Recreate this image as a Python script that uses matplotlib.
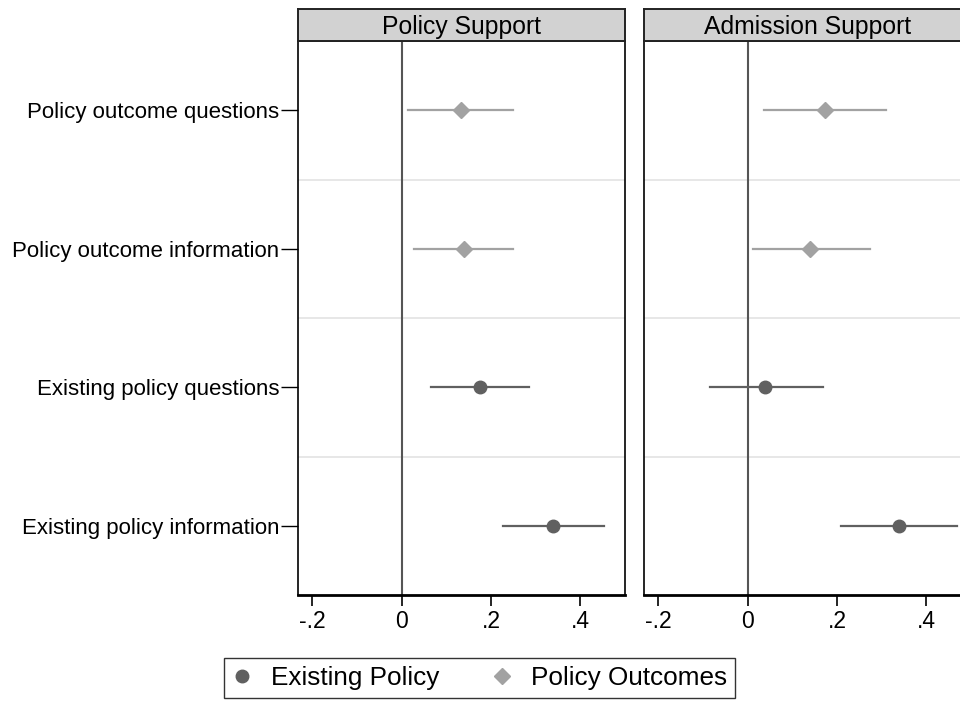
import matplotlib
matplotlib.use("Agg")
import matplotlib.pyplot as plt
from matplotlib.lines import Line2D

plt.rcParams['font.family'] = ['Liberation Sans', 'DejaVu Sans']

## Data (top to bottom)
rows = ["Policy outcome questions", "Policy outcome information",
        "Existing policy questions", "Existing policy information"]
groups = ["Policy Outcomes", "Policy Outcomes", "Existing Policy", "Existing Policy"]
panels = ["Policy Support", "Admission Support"]

# point estimates and 95% CIs per panel
est_policy = [0.133, 0.139, 0.175, 0.340]
lo_policy = [0.015, 0.028, 0.066, 0.228]
hi_policy = [0.250, 0.250, 0.285, 0.452]

est_admit = [0.174, 0.139, 0.040, 0.339]
lo_admit = [0.036, 0.011, -0.085, 0.210]
hi_admit = [0.310, 0.275, 0.168, 0.469]

xticks = [-0.2, 0, 0.2, 0.4]
xticklabels = ["-.2", "0", ".2", ".4"]

style = {"Existing Policy": dict(marker='o', color='#606060', ms=9),
         "Policy Outcomes": dict(marker='D', color='#a2a2a2', ms=8)}

W, H = 960, 703
fig = plt.figure(figsize=(W / 100, H / 100), dpi=100)

def fx(px): return px / W
def fy(py): return 1 - py / H

ax_w = fx(326.5)
top_px, bot_px, head_px = 41, 595, 9
lefts = [298, 644]
data = [(est_policy, lo_policy, hi_policy), (est_admit, lo_admit, hi_admit)]

ypos = [4, 3, 2, 1]

for i, (lx, (est, lo, hi)) in enumerate(zip(lefts, data)):
    ax = fig.add_axes([fx(lx), fy(bot_px), ax_w, fy(top_px) - fy(bot_px)])
    ax.set_xlim(-0.232, 0.499)
    ax.set_ylim(0.5, 4.5)
    for s in [1.5, 2.5, 3.5]:
        ax.axhline(s, color='#e3e3e3', lw=1.2, zorder=0)
    ax.axvline(0, color='#555555', lw=1.5, zorder=1)
    for y, g, e, l, h in zip(ypos, groups, est, lo, hi):
        st = style[g]
        ax.plot([l, h], [y, y], color=st['color'], lw=1.6, zorder=2)
        ax.plot(e, y, linestyle='none', marker=st['marker'], color=st['color'],
                ms=st['ms'], mec=st['color'], zorder=3)
    ax.set_xticks(xticks)
    ax.set_xticklabels(xticklabels, fontsize=16.5)
    ax.tick_params(axis='x', length=8, width=1.2, pad=3, color='black')
    if i == 0:
        ax.set_yticks(ypos)
        ax.set_yticklabels(rows, fontsize=16)
        ax.tick_params(axis='y', length=12, width=1.0, pad=1.5)
    else:
        ax.set_yticks([])
    for sp in ax.spines.values():
        sp.set_color('black')
        sp.set_linewidth(1.2)
    ax.spines['bottom'].set_linewidth(2)

    # panel header strip
    hax = fig.add_axes([fx(lx), fy(top_px), ax_w, fy(head_px) - fy(top_px)])
    hax.set_facecolor('#d2d2d2')
    hax.set_xticks([])
    hax.set_yticks([])
    for sp in hax.spines.values():
        sp.set_color('#222222')
        sp.set_linewidth(1.4)
    hax.text(0.5, 0.45, panels[i], transform=hax.transAxes, ha='center',
             va='center', fontsize=17.8)

handles = [Line2D([], [], linestyle='none', **{k: v for k, v in style[g].items()})
           for g in ["Existing Policy", "Policy Outcomes"]]
leg = fig.legend(handles, ["Existing Policy", "Policy Outcomes"], loc='center',
                 bbox_to_anchor=(fx(479.5), fy(678)), ncol=2, fontsize=18.8,
                 frameon=True, fancybox=False, edgecolor='black',
                 handlelength=0.8, handletextpad=0.7, columnspacing=2.0,
                 borderpad=0.3, borderaxespad=0)
leg.get_frame().set_linewidth(1.0)

fig.savefig("out.png", dpi=100)
